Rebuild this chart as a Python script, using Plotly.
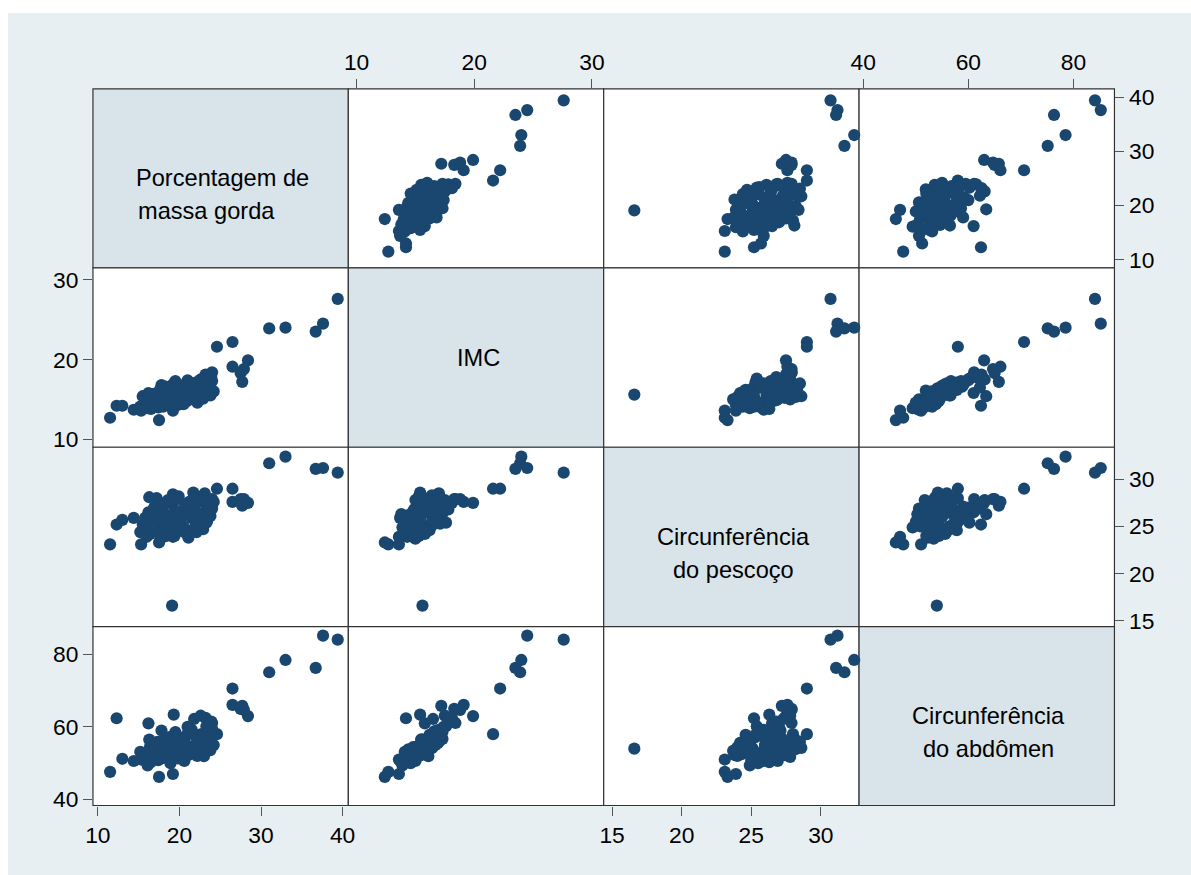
import plotly.graph_objects as go

# ---------------- data ----------------
var_names = ["Porcentagem de massa gorda", "IMC", "Circunferência do pescoço", "Circunferência do abdômen"]

fat = [39.4, 37.6, 36.7, 33.0, 31.0, 26.5, 24.6, 28.4, 26.5, 27.9, 27.5, 27.7, 24.0, 24.0, 23.2,
       11.5, 12.3, 13.0, 14.4, 17.5, 19.2, 19.1, 15.3, 16.2, 19.3, 22.6, 21.8,
       15.8, 16.4, 17.0, 17.3, 17.9, 18.2, 18.5, 18.8, 19.0, 19.4, 19.7, 20.0, 20.3, 20.6, 20.9,
       21.2, 21.5, 21.8, 22.1, 22.4, 22.7, 23.0, 23.3, 23.6, 16.1, 16.7, 17.6, 18.0, 18.4, 19.2,
       19.8, 20.2, 20.8, 21.0, 21.4, 21.9, 22.2, 22.6, 23.1, 23.8, 15.5, 16.0, 16.9, 17.4, 17.7,
       18.3, 18.6, 19.1, 19.5, 19.9, 20.4, 20.7, 21.1, 21.7, 22.0, 22.5, 22.9, 23.4, 24.2, 15.2,
       16.5, 17.2, 18.1, 19.6, 20.5, 21.3, 16.3, 18.9, 23.9, 17.8]
imc = [27.6, 24.5, 23.5, 24.0, 23.9, 22.2, 21.6, 19.9, 19.1, 18.8, 18.3, 17.2, 18.4, 17.3, 18.1,
       12.7, 14.2, 14.2, 13.7, 12.4, 13.6, 15.6, 13.6, 15.8, 15.4, 17.5, 16.5,
       14.6, 15.1, 14.2, 15.6, 14.9, 15.9, 14.4, 16.3, 15.2, 14.8, 16.0, 15.5, 16.7, 15.0, 16.2,
       15.7, 17.0, 16.4, 15.9, 17.3, 16.8, 16.1, 17.6, 16.6, 13.9, 14.8, 16.2, 14.1, 15.3, 16.9,
       14.3, 16.4, 14.7, 17.4, 15.2, 16.0, 14.6, 15.8, 17.0, 15.5, 15.4, 14.3, 15.7, 14.0, 15.0,
       16.6, 15.0, 15.8, 17.3, 15.3, 15.9, 16.9, 14.9, 15.4, 17.1, 16.3, 15.1, 16.5, 16.0, 14.1,
       13.8, 15.3, 15.5, 16.5, 14.4, 16.6, 15.6, 14.6, 17.8, 16.8]
neck = [30.7, 31.2, 31.1, 32.4, 31.7, 29.0, 29.0, 27.5, 27.6, 27.9, 27.9, 27.2, 27.9, 26.9, 27.5,
        23.1, 25.2, 25.7, 25.9, 23.3, 23.9, 16.6, 23.1, 26.5, 26.3, 27.8, 27.3,
        25.9, 24.2, 25.6, 24.5, 26.8, 25.0, 26.2, 25.3, 27.4, 24.0, 27.9, 25.0, 26.0, 26.9, 24.6,
        27.6, 25.9, 28.3, 24.4, 26.4, 28.0, 26.5, 25.4, 27.2, 24.9, 26.6, 27.5, 25.2, 24.0, 28.4,
        25.8, 25.1, 24.3, 27.0, 26.3, 27.3, 25.5, 24.8, 28.5, 26.1, 25.2, 23.9, 27.0, 25.7, 23.7,
        26.0, 27.8, 24.2, 26.7, 28.2, 24.5, 27.4, 23.8, 28.6, 25.3, 27.7, 24.7, 25.6, 27.6, 24.4,
        26.3, 28.0, 24.8, 25.7, 25.0, 26.2, 28.1, 25.5, 26.8, 27.1]
abd = [84.1, 85.2, 76.3, 78.5, 75.1, 70.6, 58.0, 63.0, 66.1, 64.7, 65.0, 65.8, 61.1, 59.5, 62.5,
       47.6, 62.4, 51.2, 50.6, 46.2, 47.0, 54.0, 51.0, 61.0, 63.4, 63.1, 62.2,
       51.0, 54.6, 52.8, 55.9, 51.4, 53.2, 53.8, 57.2, 52.2, 54.4, 54.0, 56.4, 55.0, 50.6, 57.8,
       52.4, 59.2, 54.5, 55.8, 56.7, 58.0, 51.9, 60.2, 56.8, 49.4, 53.9, 54.1, 51.8, 52.0, 56.0,
       51.3, 54.1, 52.5, 60.0, 54.0, 53.0, 52.0, 55.2, 55.9, 53.6, 52.6, 52.8, 55.4, 50.8, 53.4,
       54.9, 51.7, 55.6, 58.6, 53.9, 52.9, 55.5, 52.3, 54.2, 57.8, 56.0, 54.0, 58.2, 55.0, 53.1,
       50.3, 53.6, 56.6, 57.6, 50.9, 58.8, 56.5, 50.0, 61.5, 59.0]

variables = [fat, imc, neck, abd]

x_ranges = [[9.4, 40.7], [9.3, 31.0], [14.4, 32.75], [39.2, 87.8]]
y_ranges = [[8.5, 41.5], [9.0, 31.5], [14.37, 33.4], [38.3, 87.7]]
tick_vals = [[10, 20, 30, 40], [10, 20, 30], [15, 20, 25, 30], [40, 60, 80]]

diag_lines = [["Porcentagem de", "massa gorda"], ["IMC"],
              ["Circunferência", "do pescoço"], ["Circunferência", "do abdômen"]]

# ---------------- layout geometry ----------------
# Observed mapping from figure pixels to the photographed page:
# screen_x ~ 7 + 0.988 * X, screen_y ~ 4 + 0.987 * Y.  Targets below are
# screen pixels and are converted back to figure pixels.
AX, SX = 7.0, 0.988
AY, SY = 4.0, 0.987
W, H = 1200, 883
xe = [92, 347.5, 603, 858.5, 1114]
ye = [88, 267, 446.5, 626, 805]

def px(p):
    return ((p - AX) / SX) / W

def py(p):
    return 1 - ((p - AY) / SY) / H

BG = "#e8eff2"
DIAG = "#d8e4ea"
DOT = "#1a476f"
FONT = "Arial, Liberation Sans, sans-serif"
TICKFONT = dict(size=22.8, family=FONT, color="black")

fig = go.Figure()
layout = dict(
    width=W, height=H, margin=dict(l=0, r=0, t=0, b=0),
    paper_bgcolor="white", plot_bgcolor="rgba(0,0,0,0)",
    showlegend=False, font=dict(family=FONT, size=22, color="black"),
)

shapes = [dict(type="rect", xref="paper", yref="paper", x0=max(px(6), 0), x1=1, y0=0, y1=py(12),
               fillcolor=BG, line=dict(width=0), layer="below")]
annotations = []

k = 0
for r in range(4):
    for c in range(4):
        shapes.append(dict(type="rect", xref="paper", yref="paper",
                           x0=px(xe[c]), x1=px(xe[c + 1]), y0=py(ye[r + 1]), y1=py(ye[r]),
                           fillcolor=DIAG if r == c else "white",
                           line=dict(color="#333333", width=1.2), layer="below"))
        if r == c:
            lines = diag_lines[r]
            cx = (xe[c] + xe[c + 1]) / 2
            cy = (ye[r] + ye[r + 1]) / 2
            offs = [0] if len(lines) == 1 else [0, 33]
            for ln, o in zip(lines, offs):
                shift = -14 if ln == "massa gorda" else 2
                annotations.append(dict(text=ln, xref="paper", yref="paper",
                                        x=px(cx + shift), y=py(cy + o), showarrow=False,
                                        xanchor="center", yanchor="middle",
                                        font=dict(size=23.6, family=FONT, color="black")))
            continue
        k += 1
        sfx = "" if k == 1 else str(k)
        fig.add_trace(go.Scatter(x=variables[c], y=variables[r], mode="markers",
                                 marker=dict(color=DOT, size=12.2, line=dict(width=0)),
                                 xaxis="x" + sfx, yaxis="y" + sfx, cliponaxis=False,
                                 hoverinfo="skip"))
        xax = dict(domain=[px(xe[c]), px(xe[c + 1])], range=x_ranges[c], anchor="y" + sfx,
                   showgrid=False, zeroline=False, showline=False, fixedrange=True,
                   tickvals=tick_vals[c], tickfont=TICKFONT)
        if r == 0 and c in (1, 3):
            xax.update(side="top", showticklabels=True, ticks="outside", ticklen=9,
                       tickcolor="#555555", tickwidth=1)
        elif r == 3 and c in (0, 2):
            xax.update(side="bottom", showticklabels=True, ticks="outside", ticklen=9,
                       tickcolor="#555555", tickwidth=1)
        else:
            xax.update(showticklabels=False, ticks="")
        yax = dict(domain=[py(ye[r + 1]), py(ye[r])], range=y_ranges[r], anchor="x" + sfx,
                   showgrid=False, zeroline=False, showline=False, fixedrange=True,
                   tickvals=tick_vals[r], tickfont=TICKFONT)
        if c == 0 and r in (1, 3):
            yax.update(side="left", showticklabels=True, ticks="outside", ticklen=9,
                       tickcolor="#555555", tickwidth=1)
        elif c == 3 and r in (0, 2):
            yax.update(side="right", showticklabels=True, ticks="outside", ticklen=9,
                       tickcolor="#555555", tickwidth=1)
        else:
            yax.update(showticklabels=False, ticks="")
        layout["xaxis" + sfx] = xax
        layout["yaxis" + sfx] = yax

layout["shapes"] = shapes
layout["annotations"] = annotations
fig.update_layout(**layout)
fig.write_html("out.html")
